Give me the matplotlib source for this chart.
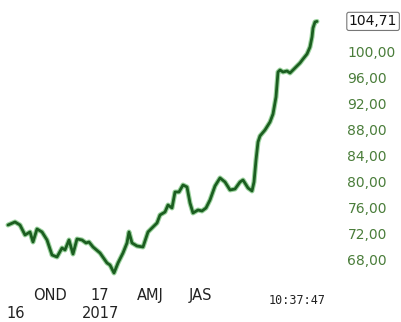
import matplotlib
matplotlib.use("Agg")
import matplotlib.pyplot as plt

# months relative to 1 Oct 2016
months = [-1.02, -0.6, -0.3, 0.0, 0.3, 0.48, 0.72, 1.02, 1.32, 1.62, 1.92, 2.22, 2.4, 2.64,
          2.88, 3.12, 3.42, 3.66, 3.84, 4.08, 4.5, 4.92, 5.1, 5.34, 5.58, 5.88, 6.12, 6.24,
          6.42, 6.72, 7.08, 7.38, 7.68, 7.92, 8.1, 8.4, 8.58, 8.82, 9.0, 9.24, 9.48, 9.72,
          9.9, 10.08, 10.38, 10.62, 10.86, 11.1, 11.4, 11.7, 12.0, 12.3, 12.6, 12.9, 13.08,
          13.38, 13.62, 13.74, 13.86, 13.98, 14.1, 14.4, 14.7, 14.88, 15.06, 15.18, 15.3,
          15.48, 15.72, 15.9, 16.08, 16.32, 16.5, 16.68, 16.92, 17.1, 17.22, 17.28, 17.4, 17.52]
prices = [73.38, 73.85, 73.38, 71.85, 72.31, 70.77, 72.77, 72.31, 71.08, 68.77, 68.46, 69.85,
          69.54, 71.08, 68.92, 71.23, 71.08, 70.62, 70.77, 70.00, 69.08, 67.54, 67.23, 66.00,
          67.54, 69.08, 70.62, 72.31, 70.62, 70.15, 70.00, 72.31, 73.08, 73.69, 74.92, 75.38,
          76.46, 76.00, 78.46, 78.46, 79.54, 79.23, 76.77, 75.23, 75.69, 75.54, 76.00, 77.23,
          79.38, 80.62, 80.00, 78.77, 78.92, 80.00, 80.31, 79.08, 78.62, 80.00, 83.38, 86.15,
          87.08, 88.00, 89.23, 90.46, 93.08, 96.92, 97.23, 96.92, 97.08, 96.77, 97.23, 97.85,
          98.31, 98.92, 99.69, 100.77, 102.31, 103.69, 104.62, 104.71]
last_value = "104,71"
y_ticks = [68, 72, 76, 80, 84, 88, 92, 96, 100]
y_tick_labels = ["68,00", "72,00", "76,00", "80,00", "84,00", "88,00", "92,00", "96,00", "100,00"]
x_ticks = [1.5, 4.5, 7.5, 10.5]
x_tick_labels = ["OND", "17", "AMJ", "JAS"]
year_pos = [-0.54, 4.56]
year_labels = ["16", "2017"]
timestamp = "10:37:47"

W, H = 401, 322
fig = plt.figure(figsize=(W / 100, H / 100), dpi=100)
ax = fig.add_axes([0, 1 - 280 / H, 335 / W, 280 / H])
ax.set_xlim(-1.5, 18.6)
ax.set_ylim(64.92, 108.0)

ax.plot(months, prices, color="#4caf50", lw=3.6, alpha=0.55, solid_capstyle="round",
        solid_joinstyle="round")
ax.plot(months, prices, color="#1b5e20", lw=2.0, solid_capstyle="round",
        solid_joinstyle="round")

for s in ax.spines.values():
    s.set_visible(False)
ax.set_xticks([])
ax.yaxis.tick_right()
ax.set_yticks(y_ticks)
ax.set_yticklabels(y_tick_labels, color="#4a7d3a", fontsize=10)
ax.tick_params(axis="y", length=0, pad=9)

# x labels
for xv, lab in zip(x_ticks, x_tick_labels):
    ax.text(xv, -0.055, lab, transform=ax.get_xaxis_transform(), ha="center", va="center",
            fontsize=10.5, color="#222222", clip_on=False)
for xv, lab in zip(year_pos, year_labels):
    ax.text(xv, -0.118, lab, transform=ax.get_xaxis_transform(), ha="center", va="center",
            fontsize=10.5, color="#222222", clip_on=False)
fig.text(297 / W, 1 - 301 / H, timestamp, ha="center", va="center", fontsize=8.5,
         color="#222222", family="DejaVu Sans Mono")

# last value box
ax.annotate(last_value, xy=(1.0, prices[-1]), xycoords=("axes fraction", "data"),
            xytext=(10, 0), textcoords="offset points", va="center", ha="left",
            fontsize=10, color="#111111", annotation_clip=False,
            bbox=dict(boxstyle="round,pad=0.15", fc="white", ec="#777777", lw=0.8))

fig.savefig("out.png", dpi=100)
